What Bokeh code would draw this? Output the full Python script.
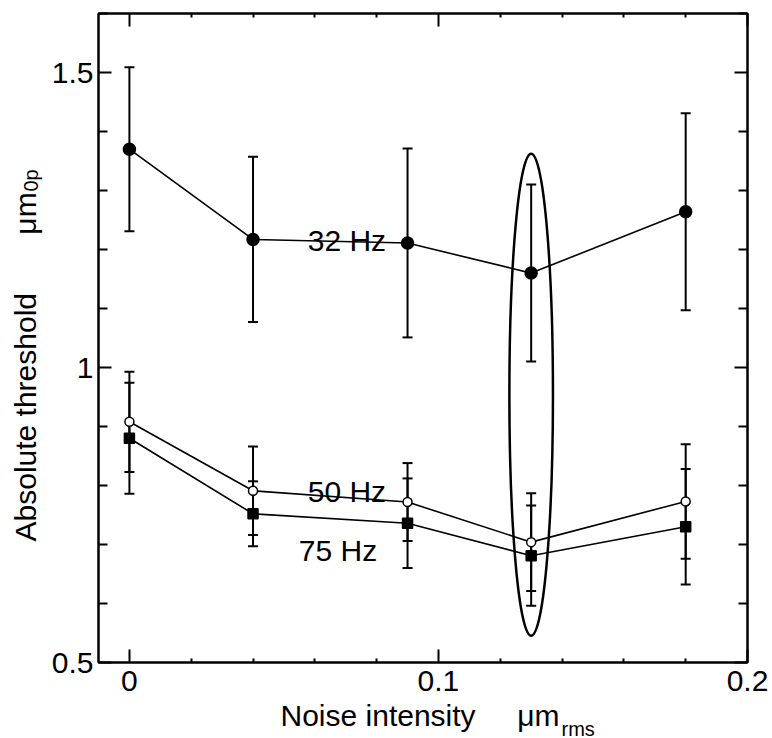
import math
from bokeh.plotting import figure
from bokeh.models import (ColumnDataSource, Range1d, FixedTicker, LinearAxis,
                          Whisker, TeeHead, Label, Title)
from bokeh.embed import file_html
from bokeh.resources import INLINE

# ---- data ----
noise = [0.0, 0.04, 0.09, 0.13, 0.18]
hz32 = [1.370, 1.217, 1.211, 1.160, 1.264]
err32 = [0.139, 0.140, 0.160, 0.150, 0.167]
hz50 = [0.908, 0.791, 0.772, 0.704, 0.773]
err50 = [0.085, 0.075, 0.066, 0.083, 0.097]
hz75 = [0.880, 0.752, 0.736, 0.681, 0.730]
err75 = [0.094, 0.055, 0.076, 0.085, 0.098]

x_major = [0.0, 0.1, 0.2]
x_minor = [0.02, 0.04, 0.06, 0.08, 0.12, 0.14, 0.16, 0.18]
y_major = [0.5, 1.0, 1.5]
y_minor = [0.6, 0.7, 0.8, 0.9, 1.1, 1.2, 1.3, 1.4, 1.6]

ellipse_x = [0.13]
ellipse_y = [0.954]
ellipse_w = [0.0141]
ellipse_h = [0.817]

FONT = "Liberation Sans"
W, H = 772, 738
NB = "\u00a0"

p = figure(width=W, height=H, output_backend="svg", toolbar_location=None,
           x_range=Range1d(-0.01, 0.2), y_range=Range1d(0.5, 1.6),
           min_border_left=98, min_border_right=25, min_border_top=13,
           min_border_bottom=75, x_axis_type=None, y_axis_type=None)
p.xgrid.visible = False
p.ygrid.visible = False
p.outline_line_color = "black"
p.outline_line_width = 2
p.background_fill_color = "white"
p.border_fill_color = "white"


def style_axis(ax, ticks, minor, show_labels):
    ax.ticker = FixedTicker(ticks=ticks, minor_ticks=minor)
    ax.axis_line_color = "black"
    ax.axis_line_width = 2
    ax.major_tick_line_color = "black"
    ax.major_tick_line_width = 2
    ax.minor_tick_line_color = "black"
    ax.minor_tick_line_width = 2
    ax.major_tick_out = 0
    ax.minor_tick_out = 0
    if show_labels:
        ax.major_label_text_font = FONT
        ax.major_label_text_font_size = "30px"
        ax.major_label_text_color = "black"
    else:
        ax.major_label_text_font_size = "1px"
        ax.major_label_text_color = None
        ax.major_label_overrides = {t: "" for t in ticks}
        ax.major_label_standoff = 0


xb = LinearAxis()
style_axis(xb, x_major, x_minor, True)
xb.major_tick_in = 13
xb.minor_tick_in = 4
xb.major_label_standoff = 8
p.add_layout(xb, "below")

xt = LinearAxis()
style_axis(xt, x_major, x_minor, False)
xt.major_tick_in = 13
xt.minor_tick_in = 4
p.add_layout(xt, "above")

yl = LinearAxis()
style_axis(yl, y_major, y_minor, True)
yl.major_tick_in = 13
yl.minor_tick_in = 9
yl.major_label_standoff = 5
p.add_layout(yl, "left")

yr = LinearAxis()
style_axis(yr, y_major, y_minor, False)
yr.major_tick_in = 13
yr.minor_tick_in = 9
p.add_layout(yr, "right")


def series(vals, errs, marker, size, fill):
    src = ColumnDataSource(dict(
        x=noise, y=vals,
        lower=[v - e for v, e in zip(vals, errs)],
        upper=[v + e for v, e in zip(vals, errs)]))
    w = Whisker(base="x", lower="lower", upper="upper", source=src,
                line_color="black", line_width=2,
                upper_head=TeeHead(size=10, line_width=2, line_color="black"),
                lower_head=TeeHead(size=10, line_width=2, line_color="black"))
    p.add_layout(w)
    p.line("x", "y", source=src, line_color="black", line_width=1.6)
    p.scatter("x", "y", source=src, marker=marker, size=size,
              fill_color=fill, line_color="black", line_width=1.5)


series(hz32, err32, "circle", 12, "black")
series(hz75, err75, "square", 10, "black")
series(hz50, err50, "circle", 9, "white")

p.ellipse(x=ellipse_x, y=ellipse_y, width=ellipse_w, height=ellipse_h,
          fill_color=None, line_color="black", line_width=2.5)


def lab(txt, x, y, size="30px"):
    p.add_layout(Label(x=x, y=y, text=txt, text_font=FONT, text_font_size=size,
                       text_color="black", text_align="left",
                       text_baseline="alphabetic"))


# series labels
lab("32 Hz", 0.0577, 1.216)
lab("50 Hz", 0.0577, 0.7905)
lab("75 Hz", 0.0548, 0.689)


def side_title(txt, side, size, offset, standoff, valign):
    t = Title(text=txt, align="left", vertical_align=valign, offset=offset,
              standoff=standoff, text_font=FONT, text_font_size=size,
              text_font_style="normal", text_color="black")
    p.add_layout(t, side)


# axis titles (side panels, stacked outward from the axes)
side_title("Noise intensity" + NB * 5 + "\u03bcm", "below", "30px", 182, 10, "top")
side_title("rms", "below", "20px", 463, -42, "top")
side_title("Absolute threshold" + NB * 7 + "\u03bcm", "left", "30px", 121, 10, "top")
side_title("0p", "left", "20px", 471, -76, "bottom")

open("out.html", "w").write(file_html(p, INLINE))
